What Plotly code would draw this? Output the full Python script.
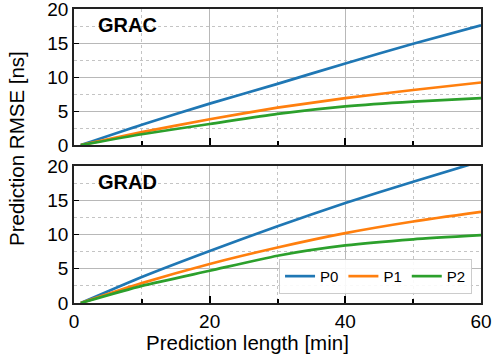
import plotly.graph_objects as go

minutes = [1, 10, 20, 30, 40, 50, 60]
series_names = ["P0", "P1", "P2"]
colors = ["#1f77b4", "#ff7f0e", "#2ca02c"]

grac_p0 = [0.0, 3.0, 6.1, 9.0, 12.0, 14.9, 17.6]
grac_p1 = [0.0, 1.9, 3.8, 5.5, 6.9, 8.1, 9.2]
grac_p2 = [0.0, 1.6, 3.1, 4.6, 5.7, 6.4, 6.9]

grad_p0 = [0.0, 3.8, 7.6, 11.2, 14.6, 17.7, 20.7]
grad_p1 = [0.0, 2.9, 5.7, 8.1, 10.2, 11.9, 13.3]
grad_p2 = [0.0, 2.5, 4.7, 6.9, 8.4, 9.3, 9.9]

panel_labels = ["GRAC", "GRAD"]
x_title = "Prediction length [min]"
y_title = "Prediction RMSE [ns]"

FONT = "Liberation Sans"
fig = go.Figure()

for vals, name, col in zip([grac_p0, grac_p1, grac_p2], series_names, colors):
    fig.add_trace(go.Scatter(x=minutes, y=vals, mode="lines", name=name,
                             line=dict(color=col, width=2.7, shape="spline", smoothing=0.6),
                             xaxis="x2", yaxis="y2", showlegend=False))
for vals, name, col in zip([grad_p0, grad_p1, grad_p2], series_names, colors):
    fig.add_trace(go.Scatter(x=minutes, y=vals, mode="lines", name=name,
                             line=dict(color=col, width=2.7, shape="spline", smoothing=0.6),
                             xaxis="x", yaxis="y", showlegend=True))

grid_major = dict(showgrid=True, gridcolor="#b8b8b8", gridwidth=1.3)
minor_x = dict(dtick=10, tick0=0, ticks="inside", ticklen=4, tickcolor="black",
               showgrid=True, griddash="dot", gridcolor="#c4c4c4", gridwidth=1)
minor_y = dict(dtick=2.5, tick0=0, ticks="", showgrid=True, griddash="dot",
               gridcolor="#c4c4c4", gridwidth=1)

def xax(**kw):
    d = dict(range=[0, 60], dtick=20, tick0=0, ticks="inside", ticklen=7, tickwidth=1.5,
             tickcolor="black", showline=True, linecolor="#222", linewidth=1.6, mirror=True,
             zeroline=False, minor=minor_x, automargin=False, ticklabeloverflow="allow",
             tickfont=dict(size=19, color="black", family=FONT), **grid_major)
    d.update(kw)
    return d

def yax(**kw):
    d = dict(range=[0, 20], dtick=5, tick0=0, ticks="inside", ticklen=5, tickwidth=1.2,
             tickcolor="black", showline=True, linecolor="#222", linewidth=1.6, mirror=True,
             zeroline=False, minor=minor_y, automargin=False, ticklabeloverflow="allow",
             tickfont=dict(size=19, color="black", family=FONT), **grid_major)
    d.update(kw)
    return d

fig.update_layout(
    width=496, height=357,
    margin=dict(l=74, r=15, t=9, b=54, autoexpand=False),
    paper_bgcolor="white", plot_bgcolor="white",
    font=dict(family=FONT, color="black"),
    xaxis=xax(anchor="y"),
    yaxis=yax(domain=[0, 0.466], anchor="x"),
    xaxis2=xax(anchor="y2", matches="x", showticklabels=False),
    yaxis2=yax(domain=[0.537, 1], anchor="x2"),
    legend=dict(orientation="h", x=0.978, xanchor="right", y=0.031, yanchor="bottom",
                bgcolor="rgba(255,255,255,0.9)", bordercolor="#cccccc", borderwidth=1,
                font=dict(size=15, family=FONT), itemwidth=30, tracegroupgap=0),
    annotations=[
        dict(text="<b>%s</b>" % panel_labels[0], xref="x2", yref="y2", x=3.2, y=17.7,
             xanchor="left", yanchor="middle", showarrow=False,
             font=dict(size=20, family=FONT, color="black")),
        dict(text="<b>%s</b>" % panel_labels[1], xref="x", yref="y", x=3.2, y=17.6,
             xanchor="left", yanchor="middle", showarrow=False,
             font=dict(size=20, family=FONT, color="black")),
        dict(text=y_title, xref="paper", yref="paper", x=0, y=0.5, xshift=-58, yshift=7,
             xanchor="center", yanchor="middle", textangle=-90, showarrow=False,
             font=dict(size=20.5, family=FONT, color="black")),
        dict(text=x_title, xref="paper", yref="paper", x=0.426, y=-0.133,
             xanchor="center", yanchor="middle", showarrow=False,
             font=dict(size=20.5, family=FONT, color="black")),
    ],
)

fig.write_html("out.html", config={"displayModeBar": False},
               post_script="document.body.style.margin='0';document.body.style.overflow='hidden';")
